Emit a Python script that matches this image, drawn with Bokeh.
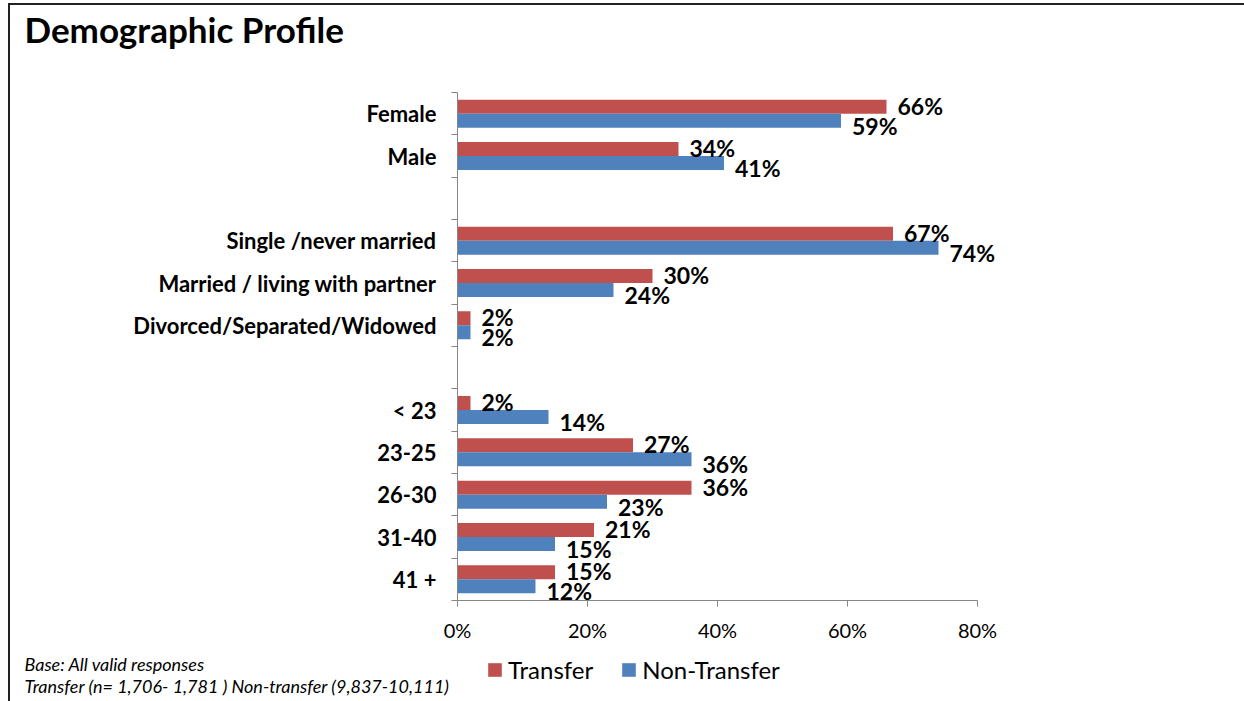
from bokeh.plotting import figure
from bokeh.models import (ColumnDataSource, Range1d, FixedTicker, PrintfTickFormatter, Label,
                          Legend, LegendItem)
from bokeh.layouts import column
from bokeh.transform import dodge
from bokeh.core.properties import value
from bokeh.embed import file_html
from bokeh.resources import INLINE

# ---------------- data ----------------
groups = [
    ["Female", "Male"],
    ["Single /never married", "Married / living with partner", "Divorced/Separated/Widowed"],
    ["< 23", "23-25", "26-30", "31-40", "41 +"],
]
transfer = [66, 34, 67, 30, 2, 2, 27, 36, 21, 15]
non_transfer = [59, 41, 74, 24, 2, 14, 36, 23, 15, 12]
series_names = ["Transfer", "Non-Transfer"]
x_ticks = [0, 20, 40, 60, 80]
title_text = "Demographic Profile"
note_lines = ["Base:  All valid responses",
              "Transfer (n= 1,706- 1,781 ) Non-transfer (9,837-10,111)"]

RED = "#C0504D"
BLUE = "#4F81BD"
AXIS = "#868686"
FONT = "Lato"

# slot positions: one empty slot between groups
cats, pos = [], []
slot = 0
for gi, g in enumerate(groups):
    for c in g:
        cats.append(c)
        pos.append(slot + 0.5)
        slot += 1
    if gi < len(groups) - 1:
        slot += 1
n_slots = slot

src = ColumnDataSource(dict(
    cat=cats, pos=pos, t=transfer, nt=non_transfer,
    t_lbl=[f"{v}%" for v in transfer], nt_lbl=[f"{v}%" for v in non_transfer],
))

# page geometry: content origin at page (10, 5) because of the slide border
OX, OY = 10, 5
W = 1244 - OX
FRAME_TOP, FRAME_BOTTOM, MAIN_BOTTOM, PAGE_BOTTOM = 92, 600, 650, 701
left_b = 457 - OX
frame_w = W - left_b
px_per_unit = 6.5


def blank_fig(h):
    f = figure(width=W, height=h, output_backend="svg", toolbar_location=None,
               x_axis_type=None, y_axis_type=None,
               x_range=Range1d(0, W), y_range=Range1d(0, h),
               min_border=0, min_border_left=0, min_border_right=0,
               min_border_top=0, min_border_bottom=0, frame_align=False)
    f.grid.visible = False
    f.outline_line_color = None
    f.background_fill_color = "white"
    f.border_fill_color = "white"
    return f


# ---------- title strip ----------
top = blank_fig(FRAME_TOP - OY)
top.add_layout(Label(x=24 - OX, y=FRAME_TOP - 28, x_units="screen", y_units="screen",
                     text=title_text, text_font=FONT, text_font_style="bold",
                     text_font_size="35px", text_color="black", text_baseline="alphabetic"))

# ---------- main chart ----------
p = figure(width=W, height=MAIN_BOTTOM - FRAME_TOP, output_backend="svg", toolbar_location=None,
           x_range=Range1d(0, frame_w / px_per_unit), y_range=Range1d(n_slots, 0),
           min_border_left=left_b, min_border_right=0, min_border_top=0,
           min_border_bottom=MAIN_BOTTOM - FRAME_BOTTOM, frame_align=False)
p.outline_line_color = None
p.xgrid.visible = False
p.ygrid.visible = False
p.background_fill_color = "white"
p.border_fill_color = "white"

off = 0.165
bh = 0.33
p.hbar(y=dodge("pos", -off, range=p.y_range), left=0, right="t", height=bh,
       color=RED, line_color=None, source=src)
p.hbar(y=dodge("pos", off, range=p.y_range), left=0, right="nt", height=bh,
       color=BLUE, line_color=None, source=src)

p.text(x="t", y=dodge("pos", -off, range=p.y_range), text="t_lbl", source=src,
       x_offset=11, y_offset=-1, text_baseline="middle", text_align="left",
       text_font=value(FONT), text_font_style="bold", text_font_size="23px",
       text_color="black")
p.text(x="nt", y=dodge("pos", off, range=p.y_range), text="nt_lbl", source=src,
       x_offset=11, y_offset=5, text_baseline="middle", text_align="left",
       text_font=value(FONT), text_font_style="bold", text_font_size="23px",
       text_color="black")

xa = p.xaxis[0]
xa.ticker = FixedTicker(ticks=x_ticks)
xa.bounds = (x_ticks[0], x_ticks[-1])
xa.formatter = PrintfTickFormatter(format="%d%%")
xa.axis_line_color = AXIS
xa.major_tick_line_color = AXIS
xa.major_tick_out = 6
xa.major_tick_in = 0
xa.minor_tick_line_color = None
xa.major_label_text_font = FONT
xa.major_label_text_font_size = "20px"
xa.major_label_text_color = "black"
xa.major_label_standoff = 11

ya = p.yaxis[0]
ya.ticker = FixedTicker(ticks=pos, minor_ticks=list(range(n_slots + 1)))
ya.major_label_overrides = {pv: c for pv, c in zip(pos, cats)}
ya.axis_line_color = AXIS
ya.major_tick_line_color = None
ya.major_tick_out = 0
ya.major_tick_in = 0
ya.minor_tick_line_color = AXIS
ya.minor_tick_out = 6
ya.minor_tick_in = 0
ya.major_label_text_font = FONT
ya.major_label_text_font_style = "bold"
ya.major_label_text_font_size = "22px"
ya.major_label_text_color = "black"
ya.major_label_standoff = 15

# ---------- bottom strip: footnotes and legend ----------
bh_strip = PAGE_BOTTOM - MAIN_BOTTOM
bot = blank_fig(bh_strip)
# hidden copies of the two series: they only supply the legend swatches
lr1 = bot.hbar(y="pos", right="t", left=0, height=0.33, color=RED, line_color=None,
               source=src, visible=False)
lr2 = bot.hbar(y="pos", right="nt", left=0, height=0.33, color=BLUE, line_color=None,
               source=src, visible=False)
lg = Legend(items=[LegendItem(label=series_names[0], renderers=[lr1]),
                   LegendItem(label=series_names[1], renderers=[lr2])],
            orientation="horizontal", location=(486 - OX, PAGE_BOTTOM - 684),
            border_line_color=None, background_fill_alpha=0, padding=0, margin=0, spacing=27,
            glyph_width=17, glyph_height=17, label_standoff=5,
            label_text_font=FONT, label_text_font_size="24px", label_text_color="black")
bot.add_layout(lg, "center")
for i, line in enumerate(note_lines):
    bot.add_layout(Label(x=24 - OX, y=PAGE_BOTTOM - (663 + 22 * i), x_units="screen",
                         y_units="screen", text=line, text_font=FONT,
                         text_font_style="italic", text_font_size="18px",
                         text_color="black", text_baseline="middle"))

layout = column(top, p, bot, spacing=0)
layout.styles = {"margin-left": "8px", "margin-top": "3px",
                 "border-top": "2px solid #222222", "border-left": "2px solid #222222"}

open("out.html", "w").write(file_html(layout, INLINE))
